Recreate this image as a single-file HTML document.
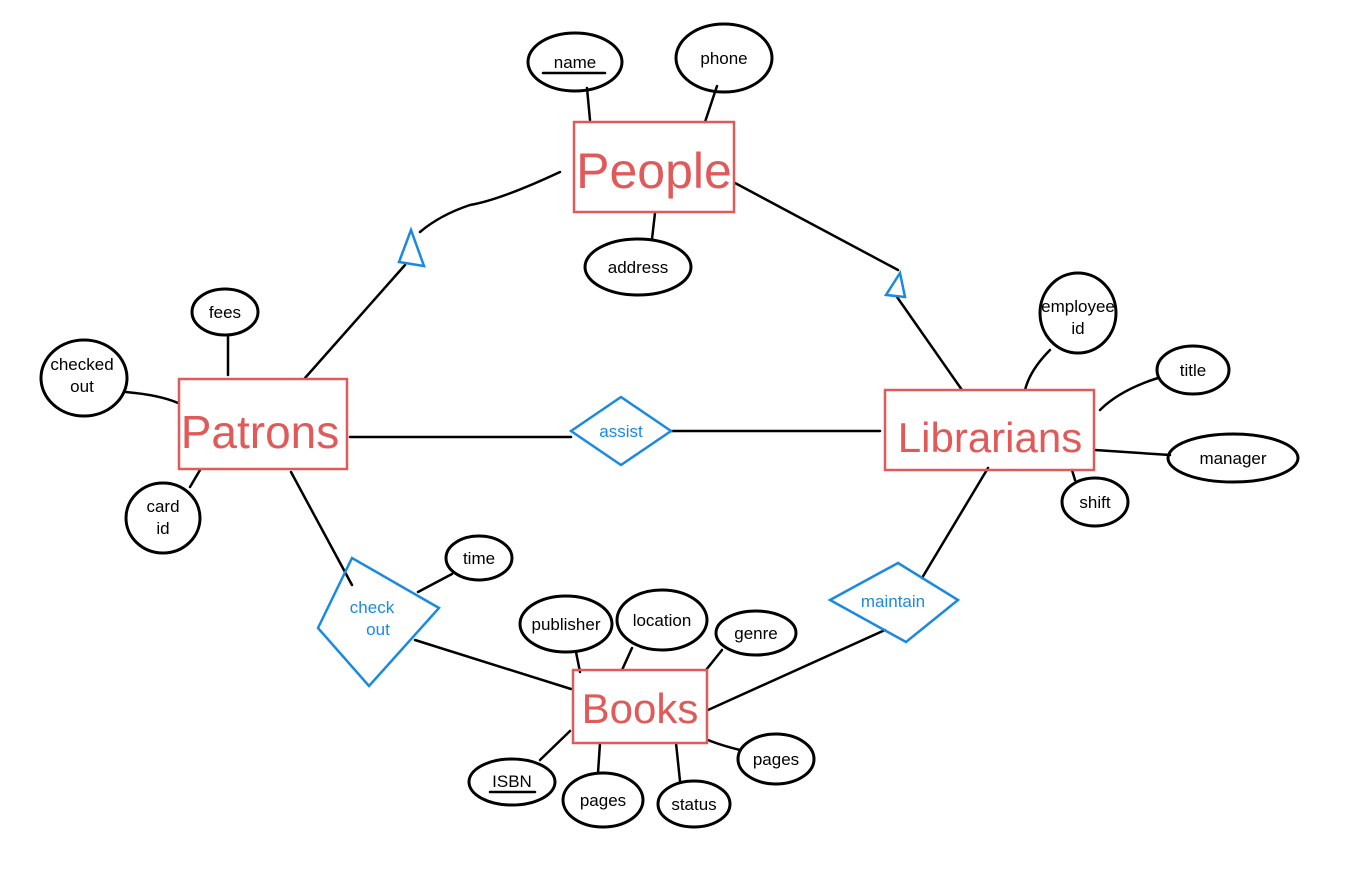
<!DOCTYPE html>
<html><head><meta charset="utf-8"><style>
html,body{margin:0;padding:0;background:#fff;}
svg{display:block;}
.e{fill:none;stroke:#000;stroke-width:3;}
.l{fill:none;stroke:#000;stroke-width:2.5;stroke-linecap:round;}
.r{fill:none;stroke:#e05a5a;stroke-width:2.5;}
.d{fill:none;stroke:#1a8ae0;stroke-width:2.5;}
.t{font-family:"Liberation Sans",sans-serif;fill:#000;text-anchor:middle;font-size:17px;}
.rt{font-family:"Liberation Sans",sans-serif;fill:#e05a5a;text-anchor:middle;}
.bt{font-family:"Liberation Sans",sans-serif;fill:#1a8ae0;text-anchor:middle;font-size:17px;}
</style></head><body>
<svg width="1348" height="886" viewBox="0 0 1348 886" xmlns="http://www.w3.org/2000/svg">
<path class="l" d="M587 88 L590 120"/>
<path class="l" d="M717 86 L705 122"/>
<path class="l" d="M652 239 L655 213"/>
<path class="l" d="M560 172 Q500 200 470 205 Q440 215 420 232"/>
<path class="l" d="M405 265 L305 378"/>
<path class="l" d="M735 183 L898 270"/>
<path class="l" d="M897 297 L962 390"/>
<path class="l" d="M350 437 L571 437"/>
<path class="l" d="M671 431 L880 431"/>
<path class="l" d="M228 335 L228 375"/>
<path class="l" d="M126 392 Q160 395 178 403"/>
<path class="l" d="M190 487 L200 470"/>
<path class="l" d="M291 472 L352 585"/>
<path class="l" d="M415 640 L571 689"/>
<path class="l" d="M452 574 L418 592"/>
<path class="l" d="M988 468 L922 578"/>
<path class="l" d="M885 630 L708 710"/>
<path class="l" d="M576 652 L580 672"/>
<path class="l" d="M632 648 L622 670"/>
<path class="l" d="M722 650 L706 670"/>
<path class="l" d="M540 760 L570 731"/>
<path class="l" d="M598 773 L600 743"/>
<path class="l" d="M680 781 L676 743"/>
<path class="l" d="M740 750 Q720 745 708 740"/>
<path class="l" d="M1050 350 Q1030 370 1025 390"/>
<path class="l" d="M1158 378 Q1120 390 1100 410"/>
<path class="l" d="M1170 455 L1095 450"/>
<path class="l" d="M1075 480 L1072 470"/>

<rect class="r" x="574" y="122" width="160" height="90"/>
<text class="rt" x="654" y="188" font-size="50">People</text>
<rect class="r" x="179" y="379" width="168" height="90"/>
<text class="rt" x="260" y="448" font-size="46">Patrons</text>
<rect class="r" x="885" y="390" width="209" height="80"/>
<text class="rt" x="990" y="452" font-size="42">Librarians</text>
<rect class="r" x="573" y="670" width="134" height="73"/>
<text class="rt" x="640" y="723" font-size="42">Books</text>

<polygon class="d" points="571,431 621,397 671,431 621,465"/>
<text class="bt" x="621" y="437">assist</text>
<polygon class="d" points="318,628 352,558 439,608 369,686"/>
<text class="bt" x="372" y="613">check</text>
<text class="bt" x="378" y="635">out</text>
<polygon class="d" points="830,600 898,563 958,600 906,642"/>
<text class="bt" x="893" y="607">maintain</text>

<polygon class="d" points="411,230 399,262 424,266"/>
<polygon class="d" points="900,273 886,295 905,297"/>

<ellipse class="e" cx="575" cy="62" rx="47" ry="29"/>
<text class="t" x="575" y="68">name</text>
<path class="l" d="M543 73 L605 73"/>
<ellipse class="e" cx="724" cy="58" rx="48" ry="34"/>
<text class="t" x="724" y="64">phone</text>
<ellipse class="e" cx="638" cy="267" rx="53" ry="28"/>
<text class="t" x="638" y="273">address</text>
<ellipse class="e" cx="225" cy="312" rx="33" ry="23"/>
<text class="t" x="225" y="318">fees</text>
<ellipse class="e" cx="84" cy="378" rx="43" ry="38"/>
<text class="t" x="82" y="370">checked</text>
<text class="t" x="82" y="392">out</text>
<ellipse class="e" cx="163" cy="518" rx="37" ry="35"/>
<text class="t" x="163" y="512">card</text>
<text class="t" x="163" y="534">id</text>
<ellipse class="e" cx="479" cy="558" rx="33" ry="22"/>
<text class="t" x="479" y="564">time</text>
<ellipse class="e" cx="566" cy="624" rx="46" ry="28"/>
<text class="t" x="566" y="630">publisher</text>
<ellipse class="e" cx="662" cy="620" rx="45" ry="30"/>
<text class="t" x="662" y="626">location</text>
<ellipse class="e" cx="756" cy="633" rx="40" ry="22"/>
<text class="t" x="756" y="639">genre</text>
<ellipse class="e" cx="512" cy="782" rx="43" ry="23"/>
<text class="t" x="512" y="787">ISBN</text>
<path class="l" d="M490 792 L535 792"/>
<ellipse class="e" cx="603" cy="800" rx="40" ry="27"/>
<text class="t" x="603" y="806">pages</text>
<ellipse class="e" cx="694" cy="804" rx="36" ry="23"/>
<text class="t" x="694" y="810">status</text>
<ellipse class="e" cx="776" cy="759" rx="38" ry="25"/>
<text class="t" x="776" y="765">pages</text>
<ellipse class="e" cx="1078" cy="313" rx="38" ry="40"/>
<text class="t" x="1078" y="312" font-size="15">employee</text>
<text class="t" x="1078" y="334">id</text>
<ellipse class="e" cx="1193" cy="370" rx="36" ry="24"/>
<text class="t" x="1193" y="376">title</text>
<ellipse class="e" cx="1233" cy="458" rx="65" ry="24"/>
<text class="t" x="1233" y="464">manager</text>
<ellipse class="e" cx="1095" cy="502" rx="33" ry="24"/>
<text class="t" x="1095" y="508">shift</text>
</svg>
</body></html>
